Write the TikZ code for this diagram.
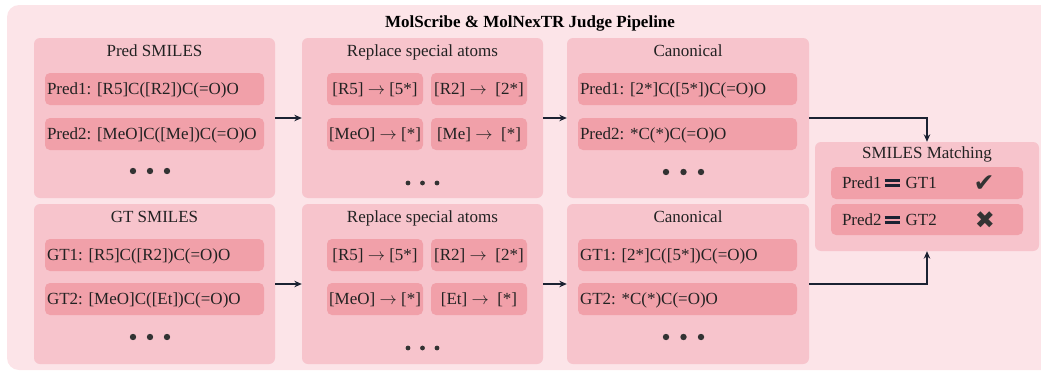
\documentclass[tikz,border=0pt]{standalone}
\usepackage{fontspec}
\setmainfont{Liberation Serif}
\newfontfamily\symfont{DejaVu Sans}
\usetikzlibrary{arrows.meta}
\frenchspacing
\definecolor{outerbg}{HTML}{FCE4E8}
\definecolor{panelbg}{HTML}{F7C4CC}
\definecolor{innerbg}{HTML}{F1A0A9}
\definecolor{txt}{HTML}{222222}
\definecolor{arrcol}{HTML}{1B2232}
\definecolor{dotcol}{HTML}{333333}
\newcommand\heavyeq{\textcolor{arrcol}{\rule[1.5pt]{15pt}{3pt}\hspace{-15pt}\rule[6.5pt]{15pt}{3pt}}}
\newcommand\ra{$\rightarrow$}
\tikzset{
  panel/.style={fill=panelbg, draw=none, rounded corners=6pt, inner sep=0pt},
  ibox/.style={fill=innerbg, draw=none, rounded corners=5pt, minimum height=32pt, inner ysep=0pt, inner xsep=2pt,
     text=txt, text height=11.25pt, text depth=0pt, font=\fontsize{17}{20}\selectfont},
  wbox/.style={ibox, text width=215pt, align=left},
  sbox/.style={ibox, minimum width=96pt, align=center},
  mbox/.style={ibox, text width=170pt, align=left, inner xsep=11pt},
  ptitle/.style={text=txt, inner sep=0pt, text height=11.25pt, text depth=0pt, font=\fontsize{17}{20}\selectfont},
  bigdot/.style={circle, fill=dotcol, draw=none, inner sep=0pt, minimum size=6.4pt},
  smalldot/.style={circle, fill=dotcol, draw=none, inner sep=0pt, minimum size=4.8pt},
  arr/.style={draw=arrcol, line width=1.2pt, -{Stealth[length=7.5pt,width=6.5pt]}}
}
\begin{document}
\begin{tikzpicture}[x=1pt,y=-1pt]
\useasboundingbox (0,0) rectangle (1041,372);
\clip (0,0) rectangle (1041,372);
\fill[outerbg, rounded corners=12pt] (7,5) rectangle (1060,370);
\node[anchor=base, inner sep=0pt, text=black, font=\fontsize{17}{20}\selectfont\bfseries] (title) at (530,27.5) {MolScribe \& MolNexTR Judge Pipeline};

% top row panels
\node[panel, minimum width=241pt, minimum height=160pt] (p1) at (154.5,118) {};
\node[panel, minimum width=241pt, minimum height=160pt] (p2) at (422.5,118) {};
\node[panel, minimum width=242pt, minimum height=160pt] (p3) at (688,118) {};
% bottom row panels
\node[panel, minimum width=241pt, minimum height=160pt] (q1) at (154.5,284) {};
\node[panel, minimum width=241pt, minimum height=160pt] (q2) at (422.5,284) {};
\node[panel, minimum width=242pt, minimum height=160pt] (q3) at (688,284) {};
% matching panel
\node[panel, minimum width=224pt, minimum height=109pt] (m) at (927,196.5) {};

% titles
\node[ptitle] (p1t) at (154.5,50.5) {Pred SMILES};
\node[ptitle] (p2t) at (422.5,50.5) {Replace special atoms};
\node[ptitle] (p3t) at (688,50.5) {Canonical};
\node[ptitle] (q1t) at (154.5,216.5) {GT SMILES};
\node[ptitle] (q2t) at (422.5,216.5) {Replace special atoms};
\node[ptitle] (q3t) at (688,216.5) {Canonical};
\node[ptitle] (mt) at (927,153.3) {SMILES Matching};

% Pred SMILES boxes
\node[wbox] (p1a) at (154.5,89) {Pred1: [R5]C([R2])C(=O)O};
\node[wbox] (p1b) at (154.5,134) {Pred2: [MeO]C([Me])C(=O)O};
\node[bigdot] (p1d1) at (133,171) {};
\node[bigdot] (p1d2) at (150,171) {};
\node[bigdot] (p1d3) at (167,171) {};

% Replace (pred)
\node[sbox] (p2a) at (375,89) {[R5] \ra{} [5*]};
\node[sbox] (p2b) at (479,89) {[R2] \ra~ [2*]};
\node[sbox] (p2c) at (375,134) {[MeO] \ra{} [*]};
\node[sbox] (p2d) at (479,134) {[Me] \ra~ [*]};
\node[smalldot] (p2d1) at (408,183) {};
\node[smalldot] (p2d2) at (422.5,183) {};
\node[smalldot] (p2d3) at (437,183) {};

% Canonical (pred)
\node[wbox] (p3a) at (687.5,89) {Pred1: [2*]C([5*])C(=O)O};
\node[wbox] (p3b) at (687.5,134) {Pred2: *C(*)C(=O)O};
\node[bigdot] (p3d1) at (666,172) {};
\node[bigdot] (p3d2) at (683.5,172) {};
\node[bigdot] (p3d3) at (701,172) {};

% GT SMILES boxes
\node[wbox] (q1a) at (154.5,255) {GT1: [R5]C([R2])C(=O)O};
\node[wbox] (q1b) at (154.5,299) {GT2: [MeO]C([Et])C(=O)O};
\node[bigdot] (q1d1) at (133,337) {};
\node[bigdot] (q1d2) at (150,337) {};
\node[bigdot] (q1d3) at (167,337) {};

% Replace (GT)
\node[sbox] (q2a) at (375,255) {[R5] \ra{} [5*]};
\node[sbox] (q2b) at (479,255) {[R2] \ra~ [2*]};
\node[sbox] (q2c) at (375,299) {[MeO] \ra{} [*]};
\node[sbox] (q2d) at (479,299) {[Et] \ra~ [*]};
\node[smalldot] (q2d1) at (408,348) {};
\node[smalldot] (q2d2) at (422.5,348) {};
\node[smalldot] (q2d3) at (437,348) {};

% Canonical (GT)
\node[wbox] (q3a) at (687.5,255) {GT1: [2*]C([5*])C(=O)O};
\node[wbox] (q3b) at (687.5,299) {GT2: *C(*)C(=O)O};
\node[bigdot] (q3d1) at (666,337) {};
\node[bigdot] (q3d2) at (683.5,337) {};
\node[bigdot] (q3d3) at (701,337) {};

% Matching boxes
\node[mbox] (ma) at (927,183) {Pred1\hspace{3pt}\heavyeq\hspace{6pt}GT1};
\node[mbox, minimum height=31pt] (mb) at (927,219.5) {Pred2\hspace{3pt}\heavyeq\hspace{6pt}GT2};
\node[inner sep=0pt, text=dotcol, font=\symfont\fontsize{25}{27}\selectfont] (chk) at (984,184) {✔};
\node[inner sep=0pt, text=dotcol, font=\symfont\fontsize{24}{26}\selectfont] (crs) at (985,220) {✖};

% connectors
\draw[arr] (p1) -- (p2);
\draw[arr] (p2) -- (p3);
\draw[arr] (q1) -- (q2);
\draw[arr] (q2) -- (q3);
\draw[arr] (p3.east) -| (m.north);
\draw[arr] (q3.east) -| (m.south);
\end{tikzpicture}
\end{document}
